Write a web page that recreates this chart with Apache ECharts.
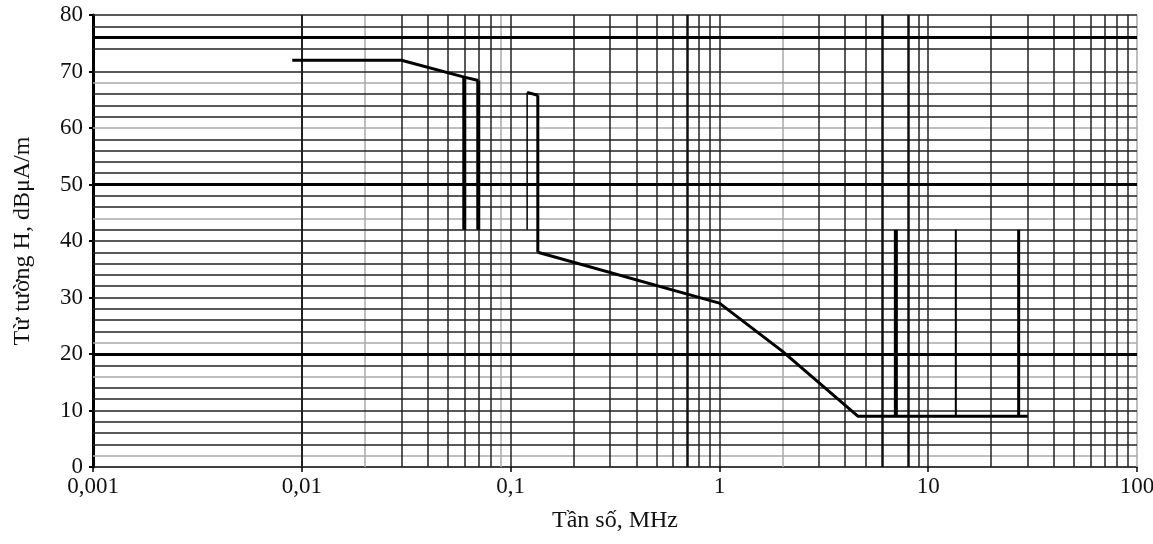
<!DOCTYPE html>
<html>
<head>
<meta charset="utf-8">
<script src="https://cdn.jsdelivr.net/npm/echarts@6/dist/echarts.min.js"></script>
<style>
html,body{margin:0;padding:0;background:#fff}
#chart{width:1153px;height:544px}
</style>
</head>
<body>
<div id="chart"></div>
<script>
// tick labels of the frequency axis (log, MHz)
var xLabels = ['0,001', '0,01', '0,1', '1', '10', '100'];

// vertical grid lines, MHz
var vGrid = [0.002, 0.005, 0.006, 0.007, 0.008, 0.009, 0.01,
             0.03, 0.04, 0.05, 0.06, 0.07, 0.08, 0.1,
             0.2, 0.3, 0.4, 0.5, 0.6, 0.8, 0.9, 1,
             3, 4, 5, 9, 10,
             20, 30, 40, 50, 60, 70, 80, 90];
var vGridLight = [0.004, 0.02, 0.09, 2, 100];
var vGridThick = [0.7, 6, 8];

// horizontal grid lines, dBuA/m
var hGrid = [4, 6, 8, 10, 12, 14, 18, 24, 26, 28, 30, 32, 34, 36, 38, 40, 42,
             46, 48, 52, 54, 56, 58, 62, 64, 66, 70, 74, 78, 80];
var hGridLight = [2, 16, 22, 44, 60, 68];
var hGridThick = [20, 50, 76];

// limit curve
var curveLow = [[0.009, 72], [0.03, 72], [0.06, 69], [0.07, 68.4]];
var curveStep = [[0.12, 66.3], [0.135, 65.8]];
var curveMain = [[0.135, 38], [1, 29], [2, 20.5], [4.6, 9], [30, 9]];

// vertical spikes: frequency, top, bottom
var spikeFreq = [0.06, 0.07, 0.12, 0.135, 7, 13.56, 27.12];
var spikeTop = [69, 68.4, 66.3, 65.8, 42, 42, 42];
var spikeBottom = [42, 42, 42, 38, 9, 9, 9];
var spikeWidth = [4, 4, 1.5, 3, 4, 2, 3];

var serif = '"Liberation Serif", "DejaVu Serif", serif';

function gridLines(list, axis, color, width) {
    return list.map(function (v) {
        var item = {lineStyle: {color: color, width: width, type: 'solid'}};
        item[axis] = v;
        return item;
    });
}

var markData = []
    .concat(gridLines(vGridLight, 'xAxis', '#aaa', 1.5))
    .concat(gridLines(hGridLight, 'yAxis', '#aaa', 1.5))
    .concat(gridLines(vGrid, 'xAxis', '#222', 1.5))
    .concat(gridLines(hGrid, 'yAxis', '#222', 1.5))
    .concat(gridLines(vGridThick, 'xAxis', '#111', 2.5))
    .concat(gridLines(hGridThick, 'yAxis', '#000', 3));

var series = [{
    type: 'line',
    data: [],
    silent: true,
    markLine: {
        silent: true,
        symbol: ['none', 'none'],
        label: {show: false},
        emphasis: {disabled: true},
        data: markData
    }
}];

[curveLow, curveStep, curveMain].forEach(function (d) {
    series.push({
        type: 'line',
        data: d,
        symbol: 'none',
        z: 5,
        lineStyle: {color: '#000', width: 3}
    });
});

for (var i = 0; i < spikeFreq.length; i++) {
    series.push({
        type: 'line',
        data: [[spikeFreq[i], spikeTop[i]], [spikeFreq[i], spikeBottom[i]]],
        symbol: 'none',
        z: 5,
        lineStyle: {color: '#000', width: spikeWidth[i]}
    });
}

var myChart = echarts.init(document.getElementById('chart'));
var option = {
    animation: false,
    backgroundColor: '#fff',
    grid: {left: 93, right: 16, top: 15, bottom: 77, outerBoundsMode: 'none', containLabel: false},
    xAxis: {
        type: 'log',
        logBase: 10,
        min: 0.001,
        max: 100,
        name: 'Tần số, MHz',
        nameLocation: 'middle',
        nameGap: 42,
        nameTextStyle: {fontFamily: serif, fontSize: 24, color: '#111'},
        axisLine: {show: true, lineStyle: {color: '#000', width: 1.5}},
        axisTick: {show: true, length: 5, lineStyle: {color: '#000', width: 1.5}},
        minorTick: {show: false},
        splitLine: {show: false},
        axisLabel: {
            fontFamily: serif, fontSize: 23, color: '#111', margin: 8,
            formatter: function (v, idx) { return xLabels[idx]; }
        }
    },
    yAxis: {
        type: 'value',
        min: 0,
        max: 80,
        interval: 10,
        name: 'Từ tường H, dBμA/m',
        nameLocation: 'middle',
        nameGap: 58,
        nameRotate: 90,
        nameTextStyle: {fontFamily: serif, fontSize: 24, color: '#111'},
        axisLine: {show: true, lineStyle: {color: '#000', width: 3}},
        axisTick: {show: true, length: 4, lineStyle: {color: '#000', width: 2}},
        splitLine: {show: false},
        axisLabel: {fontFamily: serif, fontSize: 23, color: '#111', margin: 10}
    },
    series: series
};
myChart.setOption(option);
</script>
</body>
</html>
